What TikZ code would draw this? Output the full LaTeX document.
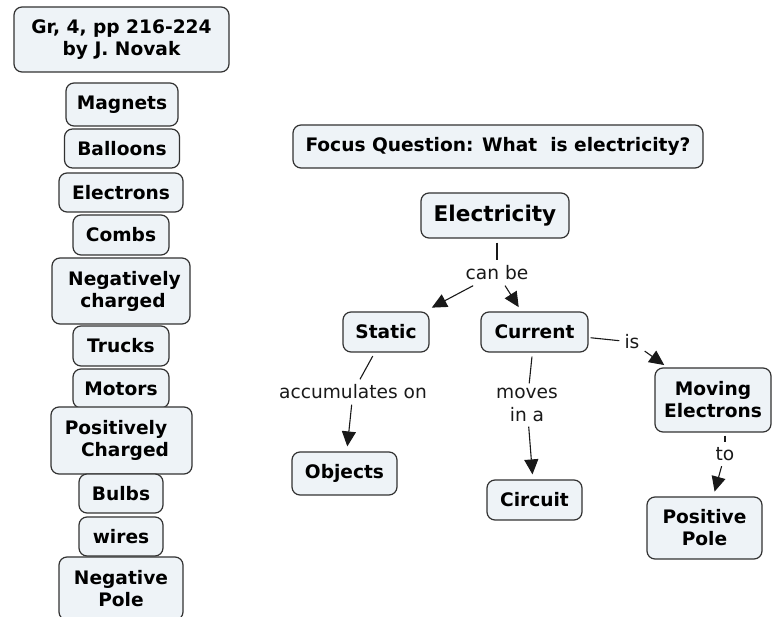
\documentclass[tikz,border=0pt]{standalone}
\usepackage{fontspec}
\setmainfont{DejaVu Sans}
\usetikzlibrary{arrows.meta}
\definecolor{boxfill}{RGB}{238,243,247}
\definecolor{boxline}{RGB}{50,50,50}
\tikzset{
  concept/.style={draw=boxline, line width=1.2pt, fill=boxfill, rounded corners=8pt,
    font=\bfseries\fontsize{18.6}{22}\selectfont, align=center, inner sep=0pt},
  lbl/.style={font=\fontsize{18.6}{23}\selectfont, align=center, inner xsep=1pt, inner ysep=0pt, text=black!90},
  conn/.style={draw=black!90, line width=1.1pt},
  arr/.style={conn, -{Triangle[length=15pt,width=14pt]}},
}
\begin{document}
\begin{tikzpicture}[x=1pt,y=-1pt]
\useasboundingbox (0,0) rectangle (772,617);
\clip (0,0) rectangle (772,617);
% left column
\node[concept, minimum width=215pt, minimum height=65pt] (gr) at (121.5,39.5) {Gr, 4, pp 216-224\\by J. Novak};
\node[concept, minimum width=112pt, minimum height=43pt] (magnets) at (122,104.5) {Magnets};
\node[concept, minimum width=115pt, minimum height=39pt] (balloons) at (122,148.5) {Balloons};
\node[concept, minimum width=124pt, minimum height=39pt] (electrons) at (121,192.5) {Electrons};
\node[concept, minimum width=96pt, minimum height=40pt] (combs) at (121,235) {Combs};
\node[concept, minimum width=138pt, minimum height=66pt] (negch) at (121,291) {\kern7pt Negatively\\\kern4pt charged};
\node[concept, minimum width=96pt, minimum height=40pt] (trucks) at (121,346) {Trucks};
\node[concept, minimum width=96pt, minimum height=39pt] (motors) at (121,388.5) {Motors};
\node[concept, minimum width=141pt, minimum height=67pt] (posch) at (121.5,440.5) {Positively\kern11pt\\\kern7pt Charged};
\node[concept, minimum width=84pt, minimum height=39pt] (bulbs) at (121,493.5) {Bulbs};
\node[concept, minimum width=84pt, minimum height=39pt] (wires) at (121,536.5) {wires};
\node[concept, minimum width=124pt, minimum height=63pt] (negpole) at (121,588.5) {Negative\\Pole};
% right side
\node[concept, minimum width=410pt, minimum height=43pt] (focus) at (498,146.5) {Focus Question: What\ \ is electricity?};
\node[concept, minimum width=148pt, minimum height=45pt, font=\bfseries\fontsize{21.6}{25}\selectfont] (elec) at (495,215.5) {Electricity};
\node[concept, minimum width=86pt, minimum height=40pt] (static) at (386,332) {Static};
\node[concept, minimum width=107pt, minimum height=40pt] (current) at (534.5,332) {Current};
\node[concept, minimum width=105pt, minimum height=43pt] (objects) at (344.5,473.5) {Objects};
\node[concept, minimum width=95pt, minimum height=40pt] (circuit) at (534.5,500) {Circuit};
\node[concept, minimum width=116pt, minimum height=64pt] (moving) at (713,400) {Moving\\Electrons};
\node[concept, minimum width=115pt, minimum height=62pt] (pospole) at (704.5,528) {Positive\\Pole};
% linking phrases
\node[lbl, minimum height=25pt] (canbe) at (497,273) {can be};
\node[lbl, minimum height=25pt] (accum) at (353,392) {accumulates on};
\node[lbl, minimum height=43pt] (moves) at (527,405) {moves\\in a};
\node[lbl, minimum width=25pt, minimum height=18pt] (is) at (632,342) {is};
\node[lbl, minimum height=24pt] (to) at (725,454) {to};
% connectors
\draw[conn, shorten <=4pt] (elec.south -| canbe.north) -- (canbe.north);
\draw[arr, shorten >=8pt] (canbe) -- (static);
\draw[arr, shorten >=5pt] (canbe) -- (current);
\draw[conn, shorten <=4pt] (static) -- (accum);
\draw[arr, shorten >=5pt] (accum) -- (objects);
\draw[conn, shorten <=4pt] (current) -- (moves);
\draw[arr, shorten >=5pt] (moves) -- (circuit);
\draw[conn, shorten <=2pt] (current) -- (is);
\draw[arr, shorten >=4pt] (is) -- (moving);
\draw[conn, shorten <=3pt] (moving.south -| to.north) -- (to.north);
\draw[arr, shorten >=5pt] (to) -- (pospole);
\end{tikzpicture}
\end{document}
